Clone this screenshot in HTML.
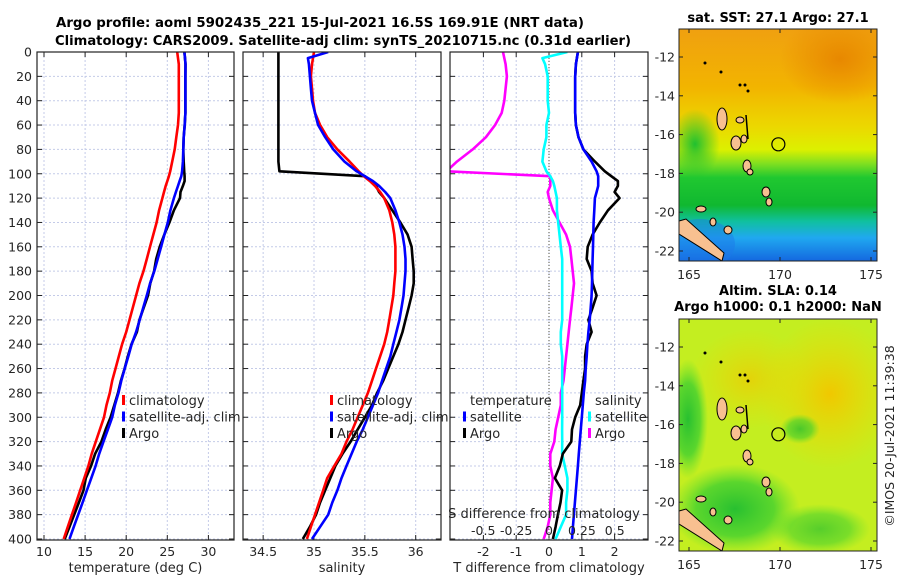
<!DOCTYPE html>
<html><head><meta charset="utf-8"><style>
html,body{margin:0;padding:0;background:#fff;}
svg{display:block;font-family:"DejaVu Sans","Liberation Sans",sans-serif;}
</style></head><body>
<svg id="chart" width="900" height="580" viewBox="0 0 900 580" xmlns="http://www.w3.org/2000/svg">
<defs>
<clipPath id="c1"><rect x="37" y="52" width="197" height="488"/></clipPath>
<clipPath id="c2"><rect x="243" y="52" width="198" height="488"/></clipPath>
<clipPath id="c3"><rect x="450" y="52" width="198" height="488"/></clipPath>
<clipPath id="m1"><rect x="679" y="29" width="198" height="232"/></clipPath>
<clipPath id="m2"><rect x="679" y="319" width="198" height="232"/></clipPath>
<linearGradient id="sstg" x1="0" y1="0" x2="0" y2="1">
<stop offset="0" stop-color="#f0a010"/><stop offset="0.25" stop-color="#f2b400"/>
<stop offset="0.42" stop-color="#ecd800"/><stop offset="0.52" stop-color="#dcf000"/>
<stop offset="0.58" stop-color="#80e020"/><stop offset="0.64" stop-color="#20c830"/>
<stop offset="0.76" stop-color="#10b830"/><stop offset="0.83" stop-color="#10c0a0"/>
<stop offset="0.9" stop-color="#20a8f0"/><stop offset="1" stop-color="#1468e0"/>
</linearGradient>
<radialGradient id="slaY" cx="0.5" cy="0.5" r="0.5"><stop offset="0" stop-color="#f0c800"/><stop offset="1" stop-color="#f0d800" stop-opacity="0"/></radialGradient>
<radialGradient id="slaG" cx="0.5" cy="0.5" r="0.5"><stop offset="0" stop-color="#28c030"/><stop offset="0.6" stop-color="#40d030" stop-opacity="0.8"/><stop offset="1" stop-color="#60e030" stop-opacity="0"/></radialGradient>
<radialGradient id="sstG" cx="0.5" cy="0.5" r="0.5"><stop offset="0" stop-color="#20c030"/><stop offset="1" stop-color="#20c030" stop-opacity="0"/></radialGradient>
<radialGradient id="sstO" cx="0.5" cy="0.5" r="0.5"><stop offset="0" stop-color="#e88800"/><stop offset="1" stop-color="#e88800" stop-opacity="0"/></radialGradient>
</defs>
<g id="titles">
<text x="320" y="27" font-size="13.5" font-weight="bold" text-anchor="middle" textLength="528" lengthAdjust="spacingAndGlyphs">Argo profile: aoml 5902435_221 15-Jul-2021 16.5S 169.91E (NRT data)</text>
<text x="343" y="45" font-size="13.5" font-weight="bold" text-anchor="middle" textLength="576" lengthAdjust="spacingAndGlyphs">Climatology: CARS2009. Satellite-adj clim: synTS_20210715.nc (0.31d earlier)</text>
</g>
<g id="plots"></g>
<g id="maps"></g>
<text transform="translate(894,436) rotate(-90)" font-size="12.5" text-anchor="middle" fill="#262626">©IMOS 20-Jul-2021 11:39:38</text>
</svg>
<script>
// ---- data (depth grid, m) ----
const depths = [0,5,10,20,30,40,50,60,70,80,90,98,102,106,110,115,120,130,140,150,160,170,180,190,200,210,220,230,240,250,260,270,280,290,300,310,320,330,340,350,360,370,380,390,400];
const tempClim = [26.2,26.3,26.4,26.4,26.4,26.4,26.4,26.3,26.1,25.9,25.6,25.35,25.2,25.0,24.8,24.6,24.4,24.0,23.7,23.3,22.9,22.5,22.1,21.6,21.2,20.8,20.4,20.0,19.5,19.1,18.7,18.3,18.0,17.6,17.3,16.8,16.3,15.8,15.4,14.9,14.4,13.9,13.4,12.9,12.4];
const tempSatDiff = [0.88,0.85,0.82,0.8,0.8,0.8,0.8,0.82,0.9,1.05,1.3,1.45,1.5,1.5,1.5,1.45,1.4,1.38,1.36,1.35,1.34,1.33,1.32,1.31,1.3,1.27,1.24,1.2,1.17,1.15,1.12,1.1,1.06,1.03,1.0,0.97,0.94,0.91,0.88,0.85,0.82,0.79,0.76,0.73,0.7];
const tempArgoDiff = [0.88,0.85,0.82,0.8,0.8,0.8,0.8,0.82,0.9,1.05,1.4,1.7,1.9,2.1,2.1,2.0,2.15,1.8,1.55,1.33,1.18,1.15,1.3,1.33,1.45,1.33,1.2,1.3,1.15,1.1,1.1,1.05,1.0,0.95,0.8,0.7,0.68,0.42,0.33,0.18,0.4,0.35,0.27,0.2,0.12];
const salClim = [35.0,34.99,34.98,34.97,34.98,34.99,35.01,35.06,35.13,35.23,35.35,35.44,35.49,35.55,35.6,35.65,35.69,35.74,35.77,35.79,35.8,35.8,35.8,35.79,35.78,35.76,35.74,35.72,35.69,35.65,35.61,35.57,35.53,35.48,35.43,35.38,35.32,35.27,35.2,35.13,35.09,35.05,35.01,34.97,34.93];
const salSat = [35.14,34.94,34.95,34.96,34.97,34.98,35.01,35.04,35.11,35.19,35.3,35.42,35.5,35.58,35.64,35.7,35.75,35.8,35.84,35.87,35.89,35.9,35.9,35.89,35.88,35.86,35.84,35.81,35.78,35.75,35.71,35.67,35.63,35.58,35.53,35.48,35.42,35.37,35.32,35.27,35.23,35.18,35.14,35.06,34.98];
const salArgo = [34.65,34.65,34.65,34.65,34.65,34.65,34.65,34.65,34.65,34.65,34.65,34.66,35.5,35.56,35.61,35.64,35.69,35.77,35.85,35.92,35.96,35.97,35.98,35.98,35.96,35.93,35.9,35.87,35.83,35.78,35.73,35.68,35.62,35.57,35.5,35.43,35.36,35.28,35.21,35.16,35.11,35.06,35.02,34.96,34.89];
const depthTicks = [0,20,40,60,80,100,120,140,160,180,200,220,240,260,280,300,320,340,360,380,400];
const tempTicks = [10,15,20,25,30];
const salTicks = [34.5,35,35.5,36];
const tDiffTicks = [-2,-1,0,1,2];
const sDiffTicks = [-0.5,-0.25,0,0.25,0.5];
const sDiffTickLabels = ["-0.5","-0.25","0","0.25","0.5"];

const NS = "http://www.w3.org/2000/svg";
function mk(tag, attrs, parent){const e=document.createElementNS(NS,tag);for(const k in attrs)e.setAttribute(k,attrs[k]);parent.appendChild(e);return e;}
const yD = d => 52 + d*1.2175;
const xT = t => 44 + (t-10)*8.22;
const xS = s => 314 + (s-35)*101.7;
const xTd = d => 549 + d*32.8;
const xSd = d => 549 + d*131.5;
const plots = document.getElementById('plots');

const panels = [
 {x0:37,x1:234,clip:'c1',name:'temperature-panel',ticks:tempTicks,fx:xT,labels:tempTicks.map(String),xlabel:'temperature (deg C)'},
 {x0:243,x1:441,clip:'c2',name:'salinity-panel',ticks:salTicks,fx:xS,labels:salTicks.map(String),xlabel:'salinity'},
 {x0:450,x1:648,clip:'c3',name:'difference-panel',ticks:tDiffTicks,fx:xTd,labels:tDiffTicks.map(String),xlabel:'T difference from climatology'}
];
panels.forEach((p,pi)=>{
  const g = mk('g',{},plots);
  
  
  depthTicks.forEach(d=>{
    const l = mk('line',{x1:p.x0,x2:p.x1,y1:yD(d),y2:yD(d),stroke:'#c4cbe8','stroke-width':1,'stroke-dasharray':'2,2'},g);
    
    
    mk('line',{x1:p.x0,x2:p.x0+5,y1:yD(d),y2:yD(d),stroke:'#222','stroke-width':1},g);
    mk('line',{x1:p.x1-5,x2:p.x1,y1:yD(d),y2:yD(d),stroke:'#222','stroke-width':1},g);
  });
  p.ticks.forEach((t,i)=>{
    const x=p.fx(t);
    const l = mk('line',{x1:x,x2:x,y1:52,y2:540,stroke:'#c4cbe8','stroke-width':1,'stroke-dasharray':'2,2'},g);
    
    
    mk('line',{x1:x,x2:x,y1:535,y2:540,stroke:'#222'},g);
    mk('line',{x1:x,x2:x,y1:52,y2:57,stroke:'#222'},g);
    const tx = mk('text',{x:x,y:556,'font-size':12.5,'text-anchor':'middle',fill:'#262626'},g);
    tx.textContent = p.labels[i];
    
    
  });
  const xl = mk('text',{x:(p.x0+p.x1)/2,y:572,'font-size':13,'text-anchor':'middle',fill:'#262626'},g);
  xl.textContent = p.xlabel;
  
  
});
depthTicks.forEach(d=>{
  const t = mk('text',{x:32,y:yD(d)+4.5,'font-size':12.5,'text-anchor':'end',fill:'#262626'},plots);
  t.textContent = String(d);
  
  
});
const zl = mk('line',{x1:xTd(0),x2:xTd(0),y1:52,y2:540,stroke:'#554','stroke-width':1,'stroke-dasharray':'1,2'},plots);



function series(vals, fx, color, clip, name){
  const pts = depths.map((d,i)=>fx(vals[i]).toFixed(1)+','+yD(d).toFixed(1)).join(' ');
  const pl = mk('polyline',{points:pts,fill:'none',stroke:color,'stroke-width':2.6,'stroke-linejoin':'round','clip-path':'url(#'+clip+')'},plots);
  
  
}
const tempSat = tempClim.map((v,i)=>v+tempSatDiff[i]);
const tempArgo = tempClim.map((v,i)=>v+tempArgoDiff[i]);
const salSatDiff = salSat.map((v,i)=>v-salClim[i]);
const salArgoDiff = salArgo.map((v,i)=>v-salClim[i]);
series(tempArgo,xT,'#000','c1','temp-argo-line');
series(tempClim,xT,'#ff0000','c1','temp-climatology-line');
series(tempSat,xT,'#0000ff','c1','temp-satellite-line');
series(salArgo,xS,'#000','c2','sal-argo-line');
series(salClim,xS,'#ff0000','c2','sal-climatology-line');
series(salSat,xS,'#0000ff','c2','sal-satellite-line');
series(salArgoDiff,xSd,'#ff00ff','c3','sal-argo-diff-line');
series(salSatDiff,xSd,'#00ffff','c3','sal-satellite-diff-line');
series(tempArgoDiff,xTd,'#000','c3','temp-argo-diff-line');
series(tempSatDiff,xTd,'#0000ff','c3','temp-satellite-diff-line');

const sl = mk('text',{x:544,y:518,'font-size':13,'text-anchor':'middle',fill:'#262626'},plots);
sl.textContent='S difference from climatology';


sDiffTicks.forEach((s,i)=>{
  const t = mk('text',{x:xSd(s),y:535,'font-size':12.5,'text-anchor':'middle',fill:'#262626'},plots);
  t.textContent = sDiffTickLabels[i];
  
  
});

function legend(x,y,items,name){
  const g = mk('g',{},plots);
  
  
  items.forEach((it,i)=>{
    const yy=y+i*16.5;
    if(it[0]) mk('rect',{x:x,y:yy-10,width:3,height:10,fill:it[0]},g);
    const t = mk('text',{x:x+7,y:yy,'font-size':13,fill:'#262626'},g);
    t.textContent = it[1];
  });
}
legend(122,405,[['#ff0000','climatology'],['#0000ff','satellite-adj. clim'],['#000','Argo']],'temp-legend');
legend(330,405,[['#ff0000','climatology'],['#0000ff','satellite-adj. clim'],['#000','Argo']],'sal-legend');
legend(463,405,[[null,'temperature'],['#0000ff','satellite'],['#000','Argo']],'diff-temp-legend');
legend(588,405,[[null,'salinity'],['#00ffff','satellite'],['#ff00ff','Argo']],'diff-sal-legend');
panels.forEach(p=>{ const r=mk('rect',{x:p.x0,y:52,width:p.x1-p.x0,height:488,fill:'none',stroke:'#222','stroke-width':1.2},plots);
   });

// ---- maps ----
const maps = document.getElementById('maps');
const mapLats = [-12,-14,-16,-18,-20,-22];
const mapLons = [165,170,175];
const lonX = lo => 689 + (lo-165)*18.2;
function drawMap(top, kind, titles, clip){
  const g = mk('g',{},maps);
  
  
  const latY = la => top + 28 + (-12-la)*19.4;
  const f = mk('g',{'clip-path':'url(#'+clip+')'},g);
  if(kind==='sst'){
    mk('rect',{x:679,y:top,width:198,height:232,fill:'url(#sstg)'},f);
    mk('ellipse',{cx:695,cy:top+115,rx:25,ry:35,fill:'url(#sstG)'},f);
    mk('ellipse',{cx:840,cy:top+30,rx:60,ry:45,fill:'url(#sstO)'},f);
    mk('ellipse',{cx:700,cy:top+215,rx:35,ry:25,fill:'#1c78e8',opacity:0.45},f);
  } else {
    mk('rect',{x:679,y:top,width:198,height:232,fill:'#c4ee20'},f);
    mk('ellipse',{cx:830,cy:top+75,rx:70,ry:75,fill:'url(#slaY)'},f);
    mk('ellipse',{cx:750,cy:top+60,rx:60,ry:50,fill:'url(#slaY)',opacity:0.7},f);
    mk('ellipse',{cx:735,cy:top+190,rx:65,ry:45,fill:'url(#slaG)'},f);
    mk('ellipse',{cx:688,cy:top+100,rx:20,ry:60,fill:'url(#slaG)'},f);
    mk('ellipse',{cx:820,cy:top+210,rx:50,ry:25,fill:'url(#slaG)',opacity:0.7},f);
    mk('ellipse',{cx:800,cy:top+110,rx:20,ry:15,fill:'url(#slaG)',opacity:0.8},f);
  }
  const isl = [[722,119,5,11],[736,143,5,7],[747,166,4,6],[750,172,3,3],[766,192,4,5],[769,202,3,4],[701,209,5,3],[713,222,3,4],[728,230,4,4],[740,120,4,3],[744,139,3,4]];
  isl.forEach(a=>mk('ellipse',{cx:a[0],cy:a[1]-29+top,rx:a[2],ry:a[3],fill:'#f8c090',stroke:'#000','stroke-width':1},f));
  mk('polygon',{points:[679,top+192,686,top+190,724,top+224,722,top+232,679,top+205].join(' '),fill:'#f8c090',stroke:'#000','stroke-width':1},f);
  [[705,63],[721,72],[740,85],[745,85],[748,91]].forEach(a=>mk('circle',{cx:a[0],cy:a[1]-29+top,r:1.5,fill:'#000'},f));
  mk('line',{x1:746,y1:top+86,x2:748,y2:top+110,stroke:'#000','stroke-width':1.5},f);
  const fc = mk('circle',{cx:lonX(169.91),cy:latY(-16.5),r:6.5,fill:'none',stroke:'#000','stroke-width':1.2},g);
  
  
  mk('rect',{x:679,y:top,width:198,height:232,fill:'none',stroke:'#222','stroke-width':1},g);
  mapLats.forEach(la=>{
    const y=latY(la);
    mk('line',{x1:679,x2:683,y1:y,y2:y,stroke:'#222'},g);
    mk('line',{x1:873,x2:877,y1:y,y2:y,stroke:'#222'},g);
    const t = mk('text',{x:675,y:y+4.5,'font-size':12.5,'text-anchor':'end',fill:'#262626'},g);
    t.textContent = String(la);
    
    
  });
  mapLons.forEach(lo=>{
    const x=lonX(lo);
    mk('line',{x1:x,x2:x,y1:top+228,y2:top+232,stroke:'#222'},g);
    mk('line',{x1:x,x2:x,y1:top,y2:top+4,stroke:'#222'},g);
    const t = mk('text',{x:x,y:top+250,'font-size':12.5,'text-anchor':'middle',fill:'#262626'},g);
    t.textContent = String(lo);
    
    
  });
  titles.forEach((s,i)=>{
    const t = mk('text',{x:778,y:titles.length===1?top-7:top-24+i*16,'font-size':13,'font-weight':'bold','text-anchor':'middle',fill:'#000'},g);
    t.textContent = s;
    
    
  });
}
drawMap(29,'sst',['sat. SST: 27.1 Argo: 27.1'],'m1');
drawMap(319,'sla',['Altim. SLA: 0.14','Argo h1000: 0.1 h2000: NaN'],'m2');
</script>
</body></html>
